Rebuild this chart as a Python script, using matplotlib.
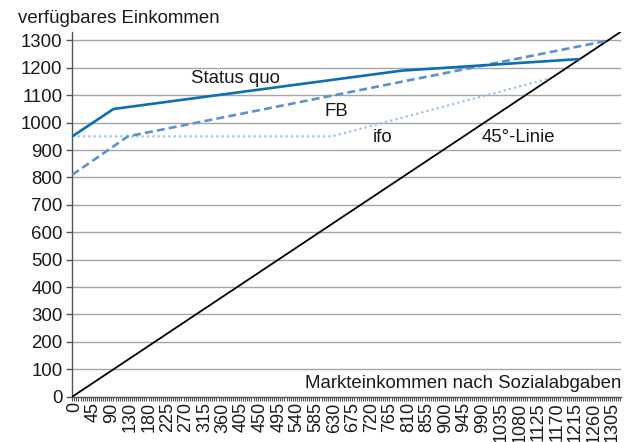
import matplotlib
matplotlib.use("Agg")
import matplotlib.pyplot as plt
import numpy as np

plt.rcParams['font.family'] = ['Liberation Sans', 'DejaVu Sans']

# data
status_x = [0, 100, 800, 1230]
status_y = [950, 1050, 1190, 1232]
fb_x = [0, 135, 1295]
fb_y = [810, 950, 1298]
ifo_x = [0, 630, 1160]
ifo_y = [950, 950, 1162]
line45 = [0, 1332]

x_labels = ["0", "45", "90", "130", "180", "225", "270", "315", "360", "405",
            "450", "495", "540", "585", "630", "675", "720", "765", "810", "855",
            "900", "945", "990", "1035", "1080", "1125", "1170", "1215", "1260", "1305"]
y_ticks = list(range(0, 1301, 100))

fig = plt.figure(figsize=(6.27, 4.42), dpi=100)
ax = fig.add_axes([72.3/627, (442-396.7)/442, (621-72.3)/627, (396.7-31.7)/442])
ax.set_xlim(0, 1332)
ax.set_ylim(0, 1332)

for y in y_ticks[1:]:
    ax.axhline(y, color='#a6a6a6', lw=1.0, zorder=1)

ax.plot(line45, line45, color='black', lw=1.3, zorder=3)
ax.plot(ifo_x, ifo_y, color='#9ec2e8', lw=1.6, linestyle=(0, (1, 1.4)), zorder=4)
ax.plot(fb_x, fb_y, color='#5e91cf', lw=1.9, linestyle=(0, (3, 1.6)), zorder=5)
ax.plot(status_x, status_y, color='#0a6fb3', lw=1.9, zorder=6)

for s in ['top', 'right']:
    ax.spines[s].set_visible(False)
for s in ['left', 'bottom']:
    ax.spines[s].set_color('#555555')
    ax.spines[s].set_linewidth(1.0)

FS = 13.4
ax.set_yticks(y_ticks)
ax.set_yticklabels([str(v) for v in y_ticks], fontsize=FS, color='#1a1a1a')
ax.tick_params(axis='y', length=4, width=1, color='#555555', pad=3)

pos = [i * 45 + 6 for i in range(len(x_labels))]
ax.set_xticks(pos)
ax.set_xticklabels(x_labels, rotation=90, fontsize=13, color='#1a1a1a')
ax.tick_params(axis='x', which='major', length=0, pad=4)
ax.set_xticks(np.arange(0, 1331, 5), minor=True)
ax.tick_params(axis='x', which='minor', length=3, width=0.8, color='#555555')

txt = dict(fontsize=FS, color='#1a1a1a')
ax.text(395, 1144, "Status quo", ha='center', va='baseline', **txt)
ax.text(641, 1025, "FB", ha='center', va='baseline', **txt)
ax.text(754, 928, "ifo", ha='center', va='baseline', **txt)
ax.text(1082, 928, "45°-Linie", ha='center', va='baseline', **txt)

fig.text(621/627, (442-388)/442, "Markteinkommen nach Sozialabgaben", ha='right', va='baseline', **txt)
fig.text(18/627, (442-23)/442, "verfügbares Einkommen", ha='left', va='baseline', **txt)

fig.savefig("out.png", dpi=100)
